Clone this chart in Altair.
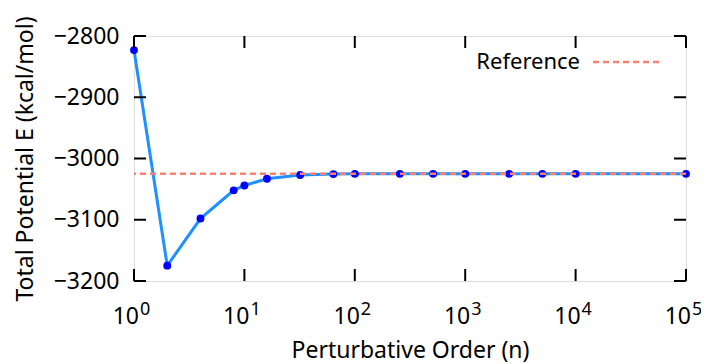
import altair as alt
import pandas as pd

# Data
orders = [1, 2, 4, 8, 10, 16, 32, 64, 100, 256, 512, 1000, 2500, 5000, 10000, 100000]
energies = [-2823, -3175, -3098, -3052, -3044, -3033, -3027, -3025.5, -3025,
            -3025, -3025, -3025, -3025, -3025, -3025, -3025]
reference_value = [-3025]
legend_label = ["Reference"]
x_ticks = [1, 10, 100, 1000, 10000, 100000]
x_exponents = ["0", "1", "2", "3", "4", "5"]
y_ticks = [-3200, -3100, -3000, -2900, -2800]

W, H = 552, 245
FONT = "Noto Sans"

df = pd.DataFrame({"n": orders, "E": energies})
ref_df = pd.DataFrame({"E": reference_value})
xt_df = pd.DataFrame({"n": x_ticks, "base": ["10"] * len(x_ticks), "exp": x_exponents})
yt_df = pd.DataFrame({"E": y_ticks})
leg_df = pd.DataFrame({"label": legend_label})

xscale = alt.Scale(type="log", domain=[1, 100000], nice=False)
yscale = alt.Scale(domain=[-3200, -2800], nice=False, zero=False)

x_axis = alt.Axis(
    values=x_ticks, ticks=False, domain=False, grid=False, labels=False,
    title="Perturbative Order (n)", titleFont=FONT, titleFontSize=23,
    titleFontWeight="normal", titleColor="black", titlePadding=58,
)
y_axis = alt.Axis(
    values=y_ticks, ticks=False, domain=False, grid=False,
    labelExpr="'\u2212' + abs(datum.value)",
    labelFont=FONT, labelFontSize=23, labelColor="black", labelPadding=15,
    title="Total Potential E (kcal/mol)", titleFont=FONT, titleFontSize=23,
    titleFontWeight="normal", titleColor="black", titlePadding=16,
)

line = alt.Chart(df).mark_line(color="#1E90FF", strokeWidth=3).encode(
    x=alt.X("n:Q", scale=xscale, axis=x_axis),
    y=alt.Y("E:Q", scale=yscale, axis=y_axis),
)
pts = alt.Chart(df).mark_circle(color="#0000FF", size=62, opacity=1).encode(
    x=alt.X("n:Q", scale=xscale),
    y=alt.Y("E:Q", scale=yscale),
)
ref = alt.Chart(ref_df).mark_rule(color="#FA8072", strokeWidth=2.5, strokeDash=[6, 4]).encode(
    y=alt.Y("E:Q", scale=yscale),
)

# inward ticks (gnuplot style) on all four sides
xt_bottom = alt.Chart(xt_df).mark_rule(color="black", strokeWidth=2).encode(
    x=alt.X("n:Q", scale=xscale), y=alt.value(H), y2=alt.value(H - 12))
xt_top = alt.Chart(xt_df).mark_rule(color="black", strokeWidth=2).encode(
    x=alt.X("n:Q", scale=xscale), y=alt.value(0), y2=alt.value(12))
yt_left = alt.Chart(yt_df).mark_rule(color="black", strokeWidth=2).encode(
    y=alt.Y("E:Q", scale=yscale), x=alt.value(0), x2=alt.value(12))
yt_right = alt.Chart(yt_df).mark_rule(color="black", strokeWidth=2).encode(
    y=alt.Y("E:Q", scale=yscale), x=alt.value(W), x2=alt.value(W - 12))

# x tick labels as 10 with a superscript exponent
xl_base = alt.Chart(xt_df).mark_text(
    align="right", baseline="alphabetic", font=FONT, fontSize=23, color="black", dx=5
).encode(x=alt.X("n:Q", scale=xscale), y=alt.value(H + 43), text="base:N")
xl_exp = alt.Chart(xt_df).mark_text(
    align="left", baseline="alphabetic", font=FONT, fontSize=18, color="black", dx=6
).encode(x=alt.X("n:Q", scale=xscale), y=alt.value(H + 34), text="exp:N")

# legend
leg_text = alt.Chart(leg_df).mark_text(
    align="right", baseline="middle", font=FONT, fontSize=22, color="black"
).encode(text="label:N", x=alt.value(446), y=alt.value(26))
leg_line = alt.Chart(leg_df).mark_rule(
    color="#FA8072", strokeWidth=2.5, strokeDash=[6, 4]
).encode(x=alt.value(459), x2=alt.value(528), y=alt.value(26))

chart = alt.layer(
    line, pts, ref, xt_bottom, xt_top, yt_left, yt_right, xl_base, xl_exp, leg_text, leg_line
).properties(
    width=W, height=H,
    autosize=alt.AutoSizeParams(type="none"),
    padding={"left": 126, "top": 28, "right": 15, "bottom": 83},
).configure_view(stroke="black", strokeWidth=2.5).configure(background="white")

chart.save("out.html", embed_options={"renderer": "svg", "actions": False})
